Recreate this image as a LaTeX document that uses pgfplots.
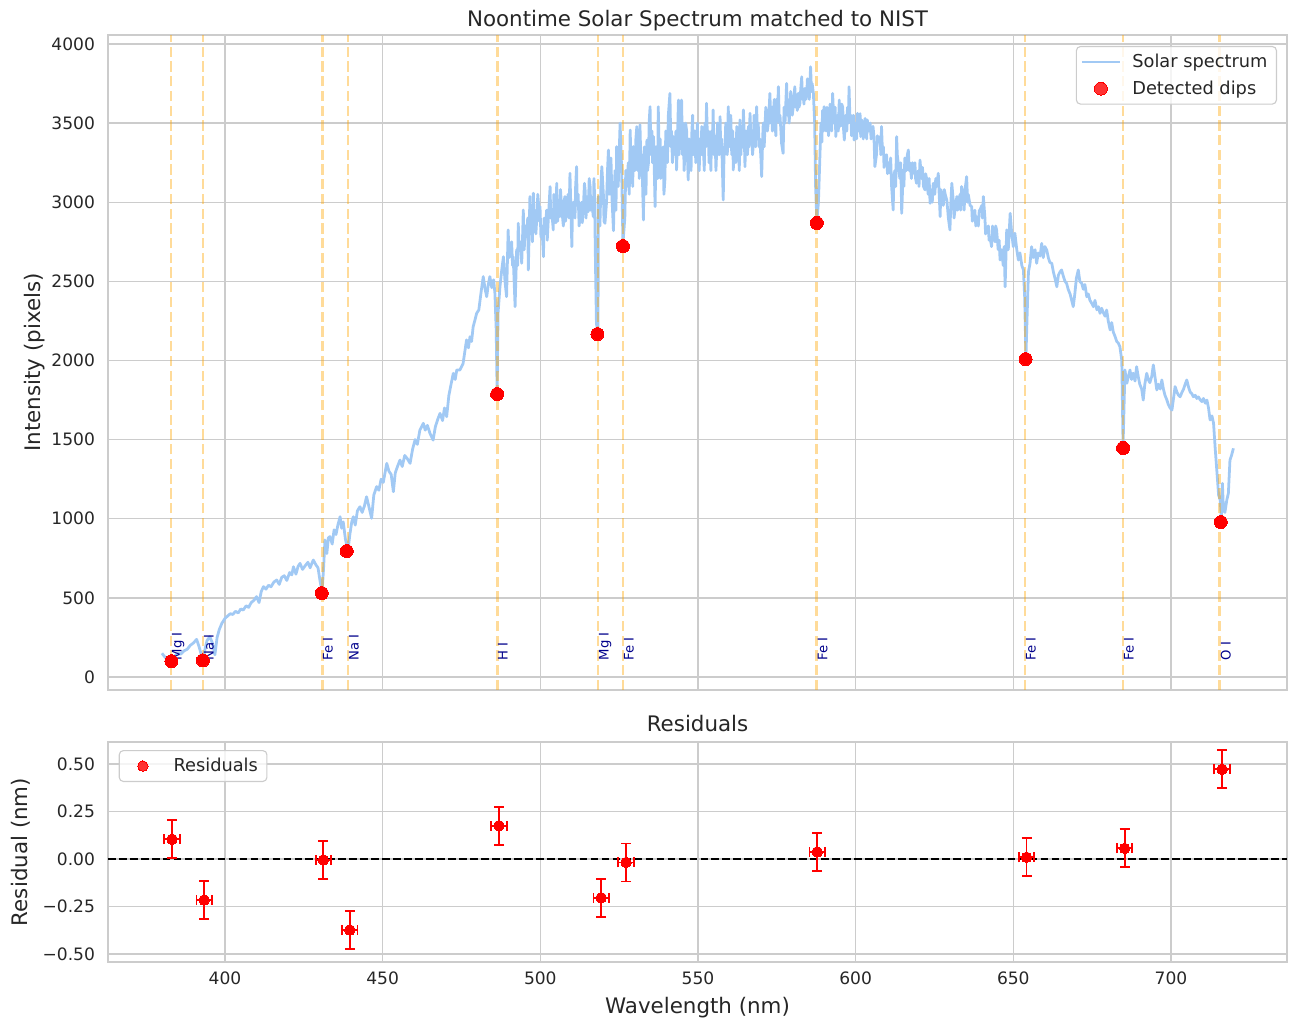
\documentclass[border=0pt]{standalone}
\usepackage{pgfplots}
\pgfplotsset{compat=1.18}
\usepackage{fontspec}
\setmainfont{DejaVu Sans}
\definecolor{gridc}{RGB}{204,204,204}
\definecolor{textc}{RGB}{38,38,38}
\definecolor{specblue}{HTML}{A1C9F4}
\definecolor{mplorange}{HTML}{FFA500}
\definecolor{lblue}{HTML}{00008B}
\newcommand{\tickfont}{\fontsize{12.3}{14}\selectfont}
\newcommand{\labfont}{\fontsize{15.4}{18}\selectfont}
\newcommand{\legfont}{\fontsize{12.8}{15}\selectfont}
\newcommand{\linefont}{\fontsize{9.5}{11}\selectfont}
\pgfplotsset{
  dotlegend/.style={legend image code/.code={\path (0cm,0cm) (0.96cm,0cm);\draw[##1, only marks] plot coordinates {(0.48cm,0cm)};}},
  linelegend/.style={legend image code/.code={\draw[##1] (0cm,0cm) -- (0.96cm,0cm);}},
}
\begin{document}
\begin{tikzpicture}
\pgfplotsset{
  common/.style={
    scale only axis, width=848.9pt,
    xmin=362.9, xmax=736.8,
    xtick={400,450,500,550,600,650,700},
    grid=major,
    major grid style={line width=1pt, draw=gridc},
    axis line style={line width=1.25pt, draw=gridc},
    tick style={draw=none},
    ticklabel style={font=\tickfont, text=textc},
    yticklabel style={anchor=east, inner sep=0pt, xshift=-9.2pt},
    xticklabel style={anchor=north, inner sep=0pt, yshift=-7pt},
    label style={font=\labfont, text=textc},
    every axis title shift=0pt,
    title style={font=\labfont, text=textc, anchor=base, inner sep=0pt},
    legend cell align=left,
  }
}
\begin{axis}[common,
  name=top,
  at={(0,0)}, anchor=south west,
  height=471.6pt,
  ymin=-82.1, ymax=4056.9,
  ytick={0,500,1000,1500,2000,2500,3000,3500,4000},
  yticklabels={0,500,1000,1500,2000,2500,3000,3500,4000},
  xticklabels={},
  title={Noontime Solar Spectrum matched to NIST},
  title style={at={(axis description cs:0.5,1)}, yshift=6pt},
  ylabel={Intensity (pixels)},
  ylabel style={at={(axis description cs:-0.0535,0.5)}, anchor=south, inner sep=0pt},
  legend style={at={(axis description cs:1,1)}, anchor=north east, xshift=-7.2pt, yshift=-7.9pt,
    draw=gridc, line width=0.8pt, rounded corners=3pt, fill=white, fill opacity=0.8, text opacity=1,
    font=\legfont, text=textc, inner xsep=3pt, inner ysep=2pt, row sep=1pt,
    nodes={inner sep=3.5pt}, /tikz/every odd column/.append style={column sep=4.5pt}},
]
\addplot[linelegend, color=specblue, line width=2pt, line join=round] table {
380.0 150
381.0 125
382.0 110
383.0 100
384.0 130
385.0 150
386.0 145
387.0 165
388.0 175
389.0 200
390.0 215
391.0 238
391.8 190
392.5 140
393.0 105
393.6 170
394.3 230
395.2 255
396.0 215
396.8 140
397.5 250
398.2 300
399.0 339
400.0 370
400.8 385
401.7 400
402.5 395
403.3 415
404.2 405
405.0 430
405.8 423
406.7 450
407.5 440
408.3 470
409.2 485
410.0 508
410.8 470
411.5 540
412.2 571
413.0 555
413.8 580
414.6 570
415.5 600
416.4 613
417.2 585
418.0 630
418.8 640
419.6 610
420.5 660
421.2 645
421.7 697
422.5 650
423.2 700
423.8 718
424.6 680
425.5 705
426.3 725
427.0 690
427.6 720
428.0 739
428.8 710
429.5 690
430.2 600
430.8 540
431.3 700
431.7 866
432.3 780
432.8 880
433.3 887
434.0 840
434.6 930
435.2 900
435.8 960
436.5 1013
437.0 940
437.5 980
438.2 870
439.0 800
439.6 900
440.2 980
440.7 1013
441.3 960
442.0 1050
442.8 1076
443.5 1040
444.2 1080
444.9 1139
445.6 1080
446.5 1003
447.2 1150
448.1 1203
448.8 1180
449.5 1250
450.2 1230
451.3 1350
452.0 1300
452.7 1280
453.4 1171
454.0 1290
454.7 1330
455.5 1371
456.2 1330
457.0 1400
457.8 1380
458.7 1350
459.5 1440
460.3 1500
461.0 1470
461.8 1560
462.9 1603
463.5 1560
464.2 1590
465.0 1540
466.0 1497
466.7 1580
467.5 1630
468.2 1666
469.0 1620
469.6 1700
470.3 1645
471.0 1780
471.7 1850
472.4 1919
473.0 1880
473.5 1940
474.5 1940
475.5 1980
476.6 2130
477.2 2080
477.7 2150
478.2 2120
478.7 2213
479.2 2250
479.8 2298
480.5 2320
481.2 2430
481.9 2530
482.5 2450
483.0 2403
483.5 2480
484.0 2530
484.6 2460
485.2 2510
485.6 2424
486.0 2200
486.3 1800
486.6 2300
487.2 2466
487.7 2560
488.3 2656
488.8 2500
489.3 2403
489.8 2825
490.1 2650
490.4 2700
490.9 2750
491.2 2600
491.4 2656
492.0 2340
492.5 2700
492.8 2600
493.0 2867
493.3 2700
493.6 2750
494.1 2614
494.4 2800
494.6 2951
494.9 2700
495.2 2850
495.7 2780
496.0 2900
496.2 2572
496.7 3036
497.0 2800
497.2 2900
497.5 2750
497.8 3057
498.1 2850
498.3 2950
498.6 2800
498.9 2909
499.2 3050
499.4 3000
499.7 2880
499.9 2972
500.2 2780
500.5 2850
501.0 2656
501.2 2900
501.5 2800
502.0 2950
502.2 2760
502.5 2880
503.1 3099
503.3 2900
503.6 2950
504.1 2825
504.3 3050
504.6 3000
504.9 2870
505.2 3120
505.5 2880
505.7 3000
506.2 2909
506.4 3080
506.7 2980
507.3 2850
507.5 3000
507.8 3036
508.0 2880
508.3 2950
508.8 3050
509.1 2900
509.4 3183
510.0 2719
510.2 2950
510.5 3000
511.0 2900
511.2 3100
511.5 3225
511.7 2980
512.0 3050
512.3 2850
512.6 2909
513.1 3000
513.3 2870
513.6 2950
514.0 3120
514.2 3080
514.5 2900
514.7 3036
515.2 2940
515.5 3150
515.8 3099
516.0 2950
516.3 3000
516.8 2909
517.0 3150
517.2 3050
517.5 2600
517.8 2230
518.3 2180
518.4 3036
518.9 2850
519.2 3100
519.5 3225
520.0 3050
520.2 2880
520.5 2867
521.0 3000
521.3 3200
521.6 3330
521.8 3050
522.1 3100
522.4 3280
522.7 3036
523.2 2820
523.5 3100
523.7 3200
524.0 2950
524.2 3352
524.7 3100
525.0 3300
525.3 3500
525.8 3200
526.2 2740
526.8 2900
527.1 3200
527.4 3099
527.9 3250
528.2 3050
528.5 3456
528.8 3200
529.0 3300
529.3 3100
529.5 3352
530.0 3200
530.3 3400
530.6 3478
530.9 3200
531.1 3350
531.4 3150
531.6 3489
531.9 3250
532.2 3300
532.7 2888
533.0 3350
533.2 3200
533.5 3050
533.8 3393
534.0 3200
534.3 3250
534.5 3500
534.8 3604
535.1 3300
535.4 3450
535.6 3250
535.9 3415
536.4 2972
536.7 3350
536.9 3300
537.2 3150
537.4 3604
537.7 3300
538.0 3400
538.2 3150
538.5 3288
539.0 3350
539.2 3050
539.5 3141
539.8 3450
540.1 3400
540.3 3250
540.6 3550
541.1 3688
541.4 3350
541.6 3450
541.9 3250
542.2 3415
542.7 3300
543.0 3450
543.2 3204
543.5 3400
543.8 3646
544.0 3300
544.3 3400
544.6 3550
544.8 3646
545.1 3300
545.3 3500
545.6 3200
545.9 3330
546.1 3500
546.4 3450
546.9 3141
547.2 3400
547.5 3350
547.8 3200
548.0 3415
548.3 3550
548.5 3300
549.0 3450
549.3 3250
549.6 3380
549.8 3500
550.1 3309
550.4 3200
550.6 3400
550.9 3300
551.2 3478
551.4 3300
551.7 3350
552.0 3200
552.2 3500
552.5 3350
552.7 3625
553.0 3400
553.3 3450
553.5 3250
553.8 3352
554.1 3200
554.3 3450
554.6 3350
554.8 3583
555.1 3300
555.4 3420
555.7 3200
555.9 3309
556.2 3500
556.4 3450
556.7 3300
557.0 3541
557.2 3350
557.5 3400
558.0 3014
558.3 3350
558.5 3300
558.8 3500
559.1 3450
559.3 3300
559.6 3604
559.9 3350
560.1 3400
560.4 3550
560.7 3300
561.0 3450
561.2 3204
561.5 3400
561.7 3350
562.0 3250
562.3 3478
562.6 3300
562.8 3400
563.1 3200
563.3 3520
563.6 3300
563.9 3450
564.2 3350
564.4 3583
564.7 3400
564.9 3225
565.2 3450
565.4 3400
565.7 3300
566.0 3480
566.2 3350
566.5 3562
566.8 3400
567.0 3450
567.3 3300
567.5 3352
567.8 3550
568.1 3450
568.3 3350
568.6 3604
568.9 3400
569.1 3500
569.4 3350
569.6 3400
569.9 3300
570.2 3162
570.5 3400
570.7 3500
571.0 3350
571.2 3450
571.5 3600
571.8 3550
572.0 3450
572.3 3500
572.6 3600
572.8 3688
573.1 3500
573.4 3600
573.6 3450
573.9 3562
574.2 3650
574.4 3500
574.7 3420
574.9 3650
575.2 3550
575.5 3730
575.8 3500
576.0 3550
576.3 3450
576.5 3373
577.0 3309
577.3 3600
577.6 3500
577.9 3650
578.1 3751
578.4 3550
578.6 3650
578.9 3500
579.1 3562
579.4 3700
579.6 3650
579.9 3550
580.2 3600
580.5 3680
580.7 3730
581.0 3600
581.2 3650
581.5 3580
581.8 3688
582.0 3600
582.3 3620
582.6 3720
582.9 3793
583.1 3650
583.4 3700
583.6 3620
583.9 3720
584.2 3650
584.5 3688
584.7 3780
585.0 3750
585.3 3650
585.7 3856
586.0 3700
586.2 3750
586.6 3688
587.0 3500
587.3 3100
587.7 2880
588.2 3000
589.0 3500
589.3 3380
589.5 3580
589.8 3450
590.0 3604
590.3 3500
590.6 3450
590.9 3600
591.1 3560
591.4 3420
591.6 3500
591.9 3620
592.2 3600
592.4 3450
592.7 3688
593.0 3550
593.2 3500
593.5 3600
593.7 3415
594.0 3500
594.3 3550
594.5 3450
594.8 3646
595.1 3480
595.3 3500
595.6 3620
595.9 3600
596.1 3480
596.4 3393
596.7 3500
596.9 3550
597.2 3450
597.4 3600
597.7 3500
597.9 3730
598.2 3520
598.5 3550
598.7 3420
599.0 3450
599.3 3550
599.5 3393
599.8 3480
600.1 3500
600.3 3400
600.6 3562
600.9 3450
601.1 3480
601.4 3560
601.6 3415
601.9 3520
602.2 3500
602.4 3400
602.7 3450
603.0 3530
603.2 3480
603.5 3400
603.7 3520
604.0 3450
604.2 3450
604.6 3500
604.9 3400
605.2 3420
605.5 3480
605.8 3415
606.1 3225
606.6 3300
606.9 3420
607.2 3380
607.7 3415
608.0 3300
608.2 3478
608.5 3320
608.8 3350
609.0 3220
609.3 3288
609.8 3300
610.1 3180
610.4 3250
610.9 3183
611.1 3280
611.4 3100
611.9 2951
612.1 3150
612.4 3200
612.7 3100
613.0 3415
613.2 3300
613.5 3250
614.0 3150
614.3 3250
614.6 2930
615.1 3204
615.3 3100
615.6 3280
616.1 3200
616.4 3300
616.7 3330
617.0 3200
617.2 3250
617.7 3150
618.0 3250
618.3 3183
618.8 3250
619.0 3150
619.3 3120
619.9 3200
620.1 3100
620.4 3267
620.9 3150
621.2 3220
621.5 3100
622.0 3078
622.2 3180
622.5 3150
623.0 3050
623.3 3150
623.6 2993
624.1 3080
624.3 3000
624.6 3120
625.1 3050
625.4 3150
625.7 3100
626.2 3183
626.8 2909
627.0 3080
627.3 3050
627.8 2980
628.1 3080
628.4 3050
628.9 3014
629.2 2950
629.4 2900
629.9 2825
630.2 3000
630.5 3120
631.0 3000
631.2 2900
631.5 2950
632.1 3036
632.3 2950
632.6 2980
633.1 3050
633.3 2950
633.6 3099
634.2 3020
634.4 2950
634.7 3080
635.2 3162
635.5 3000
635.7 3050
636.3 2980
636.8 2972
637.0 2880
637.3 2900
637.8 2950
638.1 2850
638.4 2909
638.9 2850
639.2 2950
639.4 2950
640.0 2980
640.2 2900
640.5 3036
641.0 2900
641.2 2800
641.5 2825
642.1 2850
642.3 2760
642.6 2780
643.1 2719
643.4 2850
643.6 2800
644.2 2750
644.4 2850
644.7 2825
645.2 2700
645.5 2760
645.8 2635
646.3 2700
646.8 2600
647.1 2720
647.4 2466
647.9 2825
648.4 2700
649.0 2930
649.5 2800
650.0 2719
650.5 2804
651.1 2700
651.6 2635
652.1 2680
652.7 2600
653.2 2572
653.6 2400
654.0 2020
654.4 2300
654.8 2560
655.3 2614
655.8 2719
656.3 2650
656.9 2700
657.4 2614
657.9 2680
658.5 2660
659.0 2740
659.5 2650
660.0 2720
660.6 2698
661.1 2650
661.6 2620
662.2 2614
662.7 2560
663.2 2520
663.8 2466
664.3 2540
664.8 2560
665.3 2572
665.9 2530
666.4 2500
666.9 2487
667.4 2450
668.0 2420
668.5 2380
669.0 2340
669.5 2420
670.0 2520
670.6 2572
671.1 2500
671.7 2487
672.2 2450
672.7 2480
673.3 2403
673.8 2420
674.3 2380
674.9 2360
675.4 2340
675.9 2380
676.5 2320
677.0 2340
677.5 2298
678.0 2330
678.6 2300
679.1 2280
679.6 2319
680.1 2250
680.7 2193
681.2 2240
681.7 2180
682.3 2150
682.8 2120
683.3 2110
683.8 2087
684.4 2000
684.8 1460
685.4 1940
686.0 1856
686.5 1900
687.0 1940
687.5 1880
688.0 1920
688.6 1870
689.1 1961
689.6 1900
690.1 1850
690.7 1820
691.2 1750
691.7 1850
692.3 1919
692.8 1880
693.3 1860
693.9 1900
694.4 1972
694.9 1900
695.5 1814
696.0 1850
696.6 1820
697.1 1877
697.6 1820
698.1 1780
698.7 1750
699.2 1720
699.7 1700
700.3 1687
700.8 1760
701.3 1835
701.9 1800
702.4 1780
702.9 1771
703.5 1800
704.0 1820
704.5 1850
705.0 1877
705.6 1830
706.1 1800
706.6 1790
707.1 1771
707.7 1780
708.2 1760
708.7 1770
709.3 1750
709.8 1740
710.3 1760
710.9 1730
711.4 1750
711.9 1700
712.4 1624
713.0 1650
713.5 1603
714.0 1450
714.6 1287
715.1 1150
715.6 1118
716.0 1000
716.3 1224
716.6 1076
717.1 1040
717.7 1118
718.2 1161
718.7 1371
719.2 1400
719.8 1445
};
\addlegendentry{Solar spectrum}
\addplot[dotlegend, only marks, mark=*, mark size=4.7pt, color=red, mark options={fill=red, draw=red, line width=0pt}] table {
383.0 100
393.0 105
430.7 530
438.6 796
486.3 1788
518.1 2167
526.2 2723
587.7 2869
653.9 2009
684.8 1447
715.8 979
};
\addlegendentry{Detected dips}
\pgfplotsinvokeforeach{382.9,393.0,430.8,439.0,486.3,518.3,526.2,587.7,653.7,684.8,715.5}{
  \addplot[forget plot, draw=mplorange, draw opacity=0.4, line width=2pt, dash pattern=on 7.4pt off 3.2pt] coordinates {(#1,-82.1) (#1,4056.9)};
}
\node[rotate=90, anchor=north west, inner sep=0.5pt, text=lblue, font=\linefont] at (axis cs:382.9,100) {Mg I};
\node[rotate=90, anchor=north west, inner sep=0.5pt, text=lblue, font=\linefont] at (axis cs:393.0,100) {Na I};
\node[rotate=90, anchor=north west, inner sep=0.5pt, text=lblue, font=\linefont] at (axis cs:430.8,100) {Fe I};
\node[rotate=90, anchor=north west, inner sep=0.5pt, text=lblue, font=\linefont] at (axis cs:439.0,100) {Na I};
\node[rotate=90, anchor=north west, inner sep=0.5pt, text=lblue, font=\linefont] at (axis cs:486.3,100) {H I};
\node[rotate=90, anchor=north west, inner sep=0.5pt, text=lblue, font=\linefont] at (axis cs:518.3,100) {Mg I};
\node[rotate=90, anchor=north west, inner sep=0.5pt, text=lblue, font=\linefont] at (axis cs:526.2,100) {Fe I};
\node[rotate=90, anchor=north west, inner sep=0.5pt, text=lblue, font=\linefont] at (axis cs:587.7,100) {Fe I};
\node[rotate=90, anchor=north west, inner sep=0.5pt, text=lblue, font=\linefont] at (axis cs:653.7,100) {Fe I};
\node[rotate=90, anchor=north west, inner sep=0.5pt, text=lblue, font=\linefont] at (axis cs:684.8,100) {Fe I};
\node[rotate=90, anchor=north west, inner sep=0.5pt, text=lblue, font=\linefont] at (axis cs:715.5,100) {O I};
\end{axis}

\begin{axis}[common,
  at={(0,-37.44pt)}, anchor=north west,
  height=158.4pt,
  ymin=-0.542, ymax=0.6158,
  ytick={-0.5,-0.25,0,0.25,0.5},
  yticklabels={−0.50,−0.25,0.00,0.25,0.50},
  xticklabels={400,450,500,550,600,650,700},
  title={Residuals},
  title style={at={(axis description cs:0.5,1)}, yshift=7.5pt},
  xlabel={Wavelength (nm)},
  xlabel style={at={(axis description cs:0.5,0)}, anchor=north, inner sep=0pt, yshift=-25pt},
  ylabel={Residual (nm)},
  ylabel style={at={(axis description cs:-0.0653,0.5)}, anchor=south, inner sep=0pt},
  legend style={at={(axis description cs:0,1)}, anchor=north west, xshift=7.7pt, yshift=-5.8pt,
    draw=gridc, line width=0.8pt, rounded corners=3pt, fill=white, fill opacity=0.8, text opacity=1,
    font=\legfont, text=textc, inner xsep=3pt, inner ysep=2pt,
    nodes={inner sep=3.5pt}, /tikz/every odd column/.append style={column sep=4.5pt}},
]
\addplot[forget plot, black, line width=1.3pt, dash pattern=on 5.5pt off 2.4pt] coordinates {(362.9,0) (736.8,0)};
\addplot[dotlegend, only marks, mark=*, mark size=3.8pt, color=red, mark options={fill=red, draw=red, line width=0pt},
  error bars/.cd, x dir=both, x explicit, y dir=both, y explicit,
  error bar style={line width=1.3pt, red},
  error mark options={rotate=90, red, mark size=3.6pt, line width=1.3pt}]
  table[x=x, y=y, x error=ex, y error=ey] {
x y ex ey
383.2 0.104 2.45 0.1
393.4 -0.216 2.45 0.1
431.2 -0.005 2.45 0.1
439.6 -0.374 2.45 0.1
486.9 0.175 2.45 0.1
519.3 -0.204 2.45 0.1
527.2 -0.018 2.45 0.1
587.8 0.037 2.45 0.1
654.2 0.009 2.45 0.1
685.3 0.056 2.45 0.1
716.2 0.472 2.45 0.1
};
\addlegendentry{Residuals}
\end{axis}
\pgfresetboundingbox
\path[use as bounding box] (-77.76pt,-238.32pt) rectangle (851.76pt,496.8pt);
\end{tikzpicture}
\end{document}
